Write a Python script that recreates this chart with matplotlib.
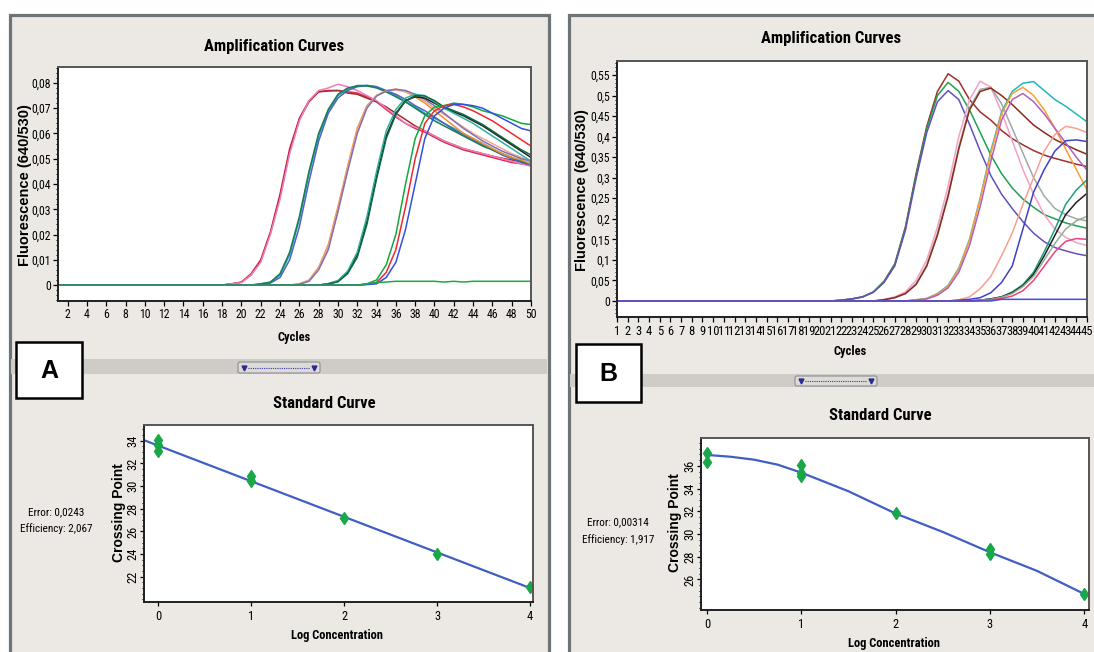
import matplotlib
matplotlib.use('Agg')
import matplotlib.pyplot as plt
from matplotlib import font_manager
from matplotlib.patches import Rectangle, FancyBboxPatch
import numpy as np

# ---- data ----
# panel A amplification: (first cycle, values up to cycle 50)
a_pink = [0.0005, 0.001, 0.004, 0.009, 0.02, 0.034, 0.052, 0.065, 0.073, 0.077, 0.078, 0.0795, 0.0785, 0.077, 0.075, 0.073,
          0.07, 0.067, 0.064, 0.0625, 0.061, 0.059, 0.057, 0.0555, 0.054, 0.053, 0.052, 0.051, 0.05, 0.049, 0.048, 0.047]
a_red = [0.0005, 0.0012, 0.0045, 0.010, 0.021, 0.036, 0.054, 0.066, 0.073, 0.0765, 0.077, 0.077, 0.0765, 0.076, 0.0745, 0.0725,
         0.0695, 0.0665, 0.064, 0.062, 0.0605, 0.0585, 0.0565, 0.055, 0.0535, 0.0525, 0.0515, 0.0505, 0.0495, 0.0485, 0.048, 0.0475]
a_brown = [0.0005, 0.0011, 0.004, 0.0095, 0.0205, 0.035, 0.053, 0.0655, 0.0725, 0.0765, 0.0768, 0.077, 0.076, 0.0755, 0.074, 0.0725,
           0.0705, 0.068, 0.0655, 0.063, 0.061, 0.059, 0.057, 0.0555, 0.054, 0.053, 0.052, 0.051, 0.0502, 0.0495, 0.0488, 0.048]
a_teal = [0.0005, 0.001, 0.004, 0.012, 0.026, 0.044, 0.059, 0.069, 0.075, 0.0775, 0.079, 0.079, 0.0785, 0.0765, 0.075, 0.0725,
          0.0705, 0.068, 0.066, 0.064, 0.062, 0.06, 0.058, 0.056, 0.054, 0.052, 0.0505, 0.049, 0.048]
a_blue2 = [0.0003, 0.0008, 0.003, 0.010, 0.023, 0.041, 0.057, 0.068, 0.074, 0.077, 0.0785, 0.079, 0.0785, 0.077, 0.0755, 0.0735,
           0.071, 0.069, 0.0665, 0.064, 0.0615, 0.0595, 0.0575, 0.0555, 0.0535, 0.0515, 0.05, 0.0485, 0.0475]
a_green2 = [0.0005, 0.0012, 0.0045, 0.013, 0.027, 0.045, 0.06, 0.0695, 0.0755, 0.078, 0.0788, 0.0788, 0.078, 0.0765, 0.0745, 0.0725,
            0.07, 0.0675, 0.065, 0.063, 0.061, 0.059, 0.057, 0.055, 0.0535, 0.052, 0.0505, 0.049, 0.048]
a_orange = [0.0005, 0.002, 0.007, 0.016, 0.031, 0.047, 0.062, 0.071, 0.075, 0.077, 0.0775, 0.0765, 0.0745, 0.072, 0.069, 0.066,
            0.063, 0.06, 0.058, 0.056, 0.054, 0.052, 0.0505, 0.0495, 0.048]
a_salmon = [0.0004, 0.0018, 0.0065, 0.015, 0.030, 0.046, 0.061, 0.0705, 0.075, 0.0768, 0.0772, 0.0765, 0.075, 0.0728, 0.070, 0.0675,
            0.065, 0.0625, 0.060, 0.058, 0.056, 0.054, 0.052, 0.0505, 0.049]
a_purple = [0.0003, 0.0015, 0.006, 0.014, 0.029, 0.045, 0.060, 0.070, 0.0748, 0.0768, 0.0775, 0.077, 0.0755, 0.0735, 0.071, 0.068,
            0.065, 0.062, 0.0595, 0.057, 0.055, 0.053, 0.0515, 0.050, 0.049]
a_black = [0.0005, 0.0015, 0.005, 0.012, 0.025, 0.043, 0.059, 0.068, 0.073, 0.0745, 0.074, 0.072, 0.070, 0.0685, 0.067, 0.065,
           0.063, 0.0605, 0.058, 0.0555, 0.053, 0.0505]
a_teal4 = [0.0006, 0.0018, 0.0055, 0.013, 0.027, 0.045, 0.061, 0.0695, 0.074, 0.0755, 0.075, 0.0725, 0.070, 0.068, 0.066, 0.064,
           0.0615, 0.059, 0.0565, 0.054, 0.0515, 0.049]
a_dgreen4 = [0.0004, 0.0013, 0.0045, 0.011, 0.024, 0.042, 0.058, 0.0675, 0.0728, 0.075, 0.0748, 0.073, 0.0705, 0.069, 0.0675, 0.0655,
             0.0635, 0.061, 0.0585, 0.056, 0.0535, 0.0515]
a_green5 = [0.0005, 0.002, 0.008, 0.02, 0.04, 0.058, 0.067, 0.0705, 0.071, 0.072, 0.0715, 0.0705, 0.069, 0.068, 0.067, 0.0655, 0.064, 0.0635]
a_red5 = [0.0003, 0.001, 0.005, 0.014, 0.031, 0.05, 0.064, 0.069, 0.071, 0.0715, 0.0705, 0.069, 0.067, 0.065, 0.0625, 0.060, 0.0575, 0.055]
a_blue5 = [0.0002, 0.0005, 0.003, 0.009, 0.022, 0.04, 0.058, 0.067, 0.070, 0.0715, 0.0715, 0.071, 0.070, 0.068, 0.066, 0.064, 0.062, 0.061]
a_neg = [0.0005, 0.001, 0.0012, 0.0015, 0.0015, 0.0015, 0.0015, 0.0015, 0.0012, 0.0015, 0.0012, 0.0015, 0.0015, 0.0015, 0.0015,
         0.0015, 0.0015, 0.0015]

amp_a = [(19, a_red, '#e02848'), (19, a_brown, '#a02c2c'), (19, a_pink, '#f07cc0'),
         (22, a_teal, '#20a8a8'), (22, a_blue2, '#5060c8'), (22, a_green2, '#188050'),
         (26, a_orange, '#f09030'), (26, a_salmon, '#f4a88c'), (26, a_purple, '#8070b8'),
         (29, a_black, '#202020'), (29, a_teal4, '#30b0a0'), (29, a_dgreen4, '#106840'),
         (33, a_green5, '#10a840'), (33, a_red5, '#f02830'), (33, a_blue5, '#3050e0'),
         (33, a_neg, '#20a848')]

# panel B amplification: (first cycle, values up to cycle 45)
b_brown1 = [0.002, 0.005, 0.01, 0.022, 0.048, 0.09, 0.18, 0.31, 0.425, 0.51, 0.553, 0.535, 0.49, 0.46, 0.44, 0.415, 0.395, 0.38,
            0.366, 0.355, 0.347, 0.34, 0.333, 0.327]
b_green1 = [0.002, 0.005, 0.01, 0.022, 0.047, 0.088, 0.178, 0.305, 0.42, 0.5, 0.532, 0.51, 0.465, 0.41, 0.355, 0.31, 0.275, 0.248,
            0.228, 0.21, 0.2, 0.19, 0.183, 0.177]
b_purple1 = [0.002, 0.005, 0.01, 0.021, 0.045, 0.085, 0.172, 0.298, 0.41, 0.485, 0.512, 0.49, 0.43, 0.365, 0.305, 0.26, 0.225, 0.193,
             0.165, 0.144, 0.13, 0.122, 0.115, 0.11]
b_pink2 = [0.004, 0.01, 0.022, 0.05, 0.1, 0.18, 0.28, 0.40, 0.49, 0.535, 0.52, 0.46, 0.39, 0.32, 0.26, 0.21, 0.175, 0.155, 0.142, 0.135]
b_gray2 = [0.003, 0.008, 0.018, 0.042, 0.088, 0.165, 0.26, 0.375, 0.47, 0.515, 0.52, 0.48, 0.42, 0.36, 0.3, 0.255, 0.225, 0.21, 0.2, 0.195]
b_brown2 = [0.003, 0.008, 0.018, 0.04, 0.085, 0.16, 0.255, 0.37, 0.465, 0.51, 0.518, 0.5, 0.478, 0.453, 0.428, 0.41, 0.393, 0.38,
            0.368, 0.357]
b_teal3 = [0.003, 0.006, 0.018, 0.038, 0.08, 0.15, 0.25, 0.365, 0.46, 0.51, 0.53, 0.534, 0.512, 0.49, 0.474, 0.455, 0.436]
b_orange3 = [0.003, 0.006, 0.017, 0.036, 0.078, 0.148, 0.248, 0.36, 0.455, 0.505, 0.52, 0.5, 0.465, 0.42, 0.37, 0.32, 0.27]
b_violet3 = [0.002, 0.005, 0.014, 0.032, 0.07, 0.135, 0.23, 0.34, 0.44, 0.49, 0.505, 0.485, 0.455, 0.42, 0.385, 0.35, 0.318]
b_salmon = [0.003, 0.01, 0.03, 0.06, 0.11, 0.165, 0.235, 0.3, 0.365, 0.405, 0.425, 0.42, 0.41]
b_blue3 = [0.002, 0.004, 0.008, 0.02, 0.045, 0.085, 0.175, 0.265, 0.32, 0.365, 0.39, 0.392, 0.388]
b_tgreen4 = [0.002, 0.005, 0.01, 0.022, 0.04, 0.07, 0.12, 0.175, 0.235, 0.27, 0.295]
b_black4 = [0.002, 0.005, 0.01, 0.02, 0.037, 0.065, 0.11, 0.16, 0.21, 0.24, 0.262]
b_gray4 = [0.002, 0.004, 0.009, 0.018, 0.035, 0.06, 0.1, 0.14, 0.175, 0.195, 0.206]
b_pink4 = [0.001, 0.003, 0.006, 0.012, 0.025, 0.05, 0.085, 0.12, 0.145, 0.152, 0.15]
b_flat = [0.004, 0.004, 0.004, 0.004, 0.004, 0.004, 0.004, 0.004, 0.004]

amp_b = [(22, b_brown1, '#a0302c'), (22, b_green1, '#20a050'), (22, b_purple1, '#6050c0'),
         (26, b_pink2, '#f4a0c8'), (26, b_gray2, '#a0a8a8'), (26, b_brown2, '#902818'),
         (29, b_teal3, '#20b8c0'), (29, b_orange3, '#f8a030'), (29, b_violet3, '#b060c0'),
         (33, b_salmon, '#f8a090'), (33, b_blue3, '#4040c8'),
         (35, b_tgreen4, '#20a080'), (35, b_black4, '#202020'), (35, b_gray4, '#90b090'), (35, b_pink4, '#f04080'),
         (37, b_flat, '#4050d0')]

# standard curves
std_a_x = [0, 0, 0, 1, 1, 2, 3, 4]
std_a_y = [34.06, 33.64, 33.1, 30.9, 30.44, 27.19, 23.99, 21.1]
fit_a_x = [-0.15, 4.0]
fit_a_y = [34.05, 21.0]
std_b_x = [0, 0, 1, 1, 1, 2, 3, 3, 4]
std_b_y = [37.1, 36.3, 36.05, 35.4, 35.1, 31.82, 28.69, 28.24, 24.72]
fit_b_x = [0, 0.25, 0.5, 0.75, 1, 1.5, 2, 2.5, 3, 3.5, 4]
fit_b_y = [36.96, 36.8, 36.54, 36.1, 35.4, 33.76, 31.8, 30.18, 28.39, 26.75, 24.72]

a_yticks = [0, 0.01, 0.02, 0.03, 0.04, 0.05, 0.06, 0.07, 0.08]
a_ylabels = ['0', '0,01', '0,02', '0,03', '0,04', '0,05', '0,06', '0,07', '0,08']
b_yticks = [0, 0.05, 0.1, 0.15, 0.2, 0.25, 0.3, 0.35, 0.4, 0.45, 0.5, 0.55]
b_ylabels = ['0', '0,05', '0,1', '0,15', '0,2', '0,25', '0,3', '0,35', '0,4', '0,45', '0,5', '0,55']

# ---- fonts: a narrow face if there is one, else Liberation Sans a bit smaller ----
fonts = {f.name for f in font_manager.fontManager.ttflist}
SANS = 'Liberation Sans' if 'Liberation Sans' in fonts else 'DejaVu Sans'
pref = ['Liberation Sans Narrow', 'Arial Narrow', 'Roboto Condensed', 'Noto Sans Condensed',
        'Open Sans Condensed', 'DejaVu Sans Condensed']
NARROW = next((f for f in pref if f in fonts), None)
if NARROW is None:
    others = sorted(n for n in fonts if ('Narrow' in n or n.endswith('Condensed')))
    NARROW = others[0] if others else None
if NARROW is None:
    NARROW, K = SANS, 0.86
else:
    K = 1.0

# ---- layout helpers (pixel coords, origin top-left) ----
W, H = 1094, 652
fig = plt.figure(figsize=(W / 100, H / 100), dpi=100, facecolor='white')


def px(l, t, r, b):
    return [l / W, 1 - b / H, (r - l) / W, (b - t) / H]


def ftext(x, y, s, **kw):
    fig.text(x / W, 1 - y / H, s, ha='center', va='center', **kw)


bg = fig.add_axes([0, 0, 1, 1])
bg.set_xlim(0, W)
bg.set_ylim(H, 0)
bg.axis('off')

panel_bg = '#ece9e5'
border = '#6d7477'
bg.add_patch(Rectangle((9.5, 14.5), 539, 700, fc=panel_bg, ec=border, lw=2.3))
bg.add_patch(Rectangle((568.5, 14.5), 600, 700, fc=panel_bg, ec=border, lw=2.3))
bg.add_patch(Rectangle((11, 359), 536, 15, fc='#cfccc8', ec='none'))
bg.add_patch(Rectangle((570, 374), 530, 13, fc='#cfccc8', ec='none'))
for l, t, r, b in [(238, 362, 320, 373), (795, 376, 877, 386)]:
    bg.add_patch(FancyBboxPatch((l, t), r - l, b - t, boxstyle='round,pad=0,rounding_size=2',
                                fc='#dddbd7', ec='#8a8c98', lw=0.8))
    bg.plot([l + 10, r - 10], [(t + b) / 2] * 2, ls=(0, (1, 1)), color='#3a3aa0', lw=0.8)
    bg.plot([l + 6, r - 6], [(t + b) / 2] * 2, 'v', color='#2a2a90', ms=3.5)
for l, t, r, b, s in [(16, 342, 82, 398, 'A'), (576, 344, 641, 402, 'B')]:
    bg.add_patch(Rectangle((l, t), r - l, b - t, fc='white', ec='black', lw=1.8))
    ftext((l + r) / 2, (t + b) / 2 + 1, s, family=SANS, fontweight='bold', fontsize=18)


def style(ax, tick_size, pad=1.5, length=3.5):
    for side in ax.spines:
        ax.spines[side].set_linewidth(1.4)
    ax.spines['left'].set_color('#202020')
    ax.spines['bottom'].set_color('#202020')
    ax.spines['top'].set_color('#555555')
    ax.spines['right'].set_color('#555555')
    ax.tick_params(direction='out', length=length, width=0.9, labelsize=tick_size * K, pad=pad)
    ax.tick_params(which='minor', direction='out', length=1.8, width=0.7)
    for lab in ax.get_xticklabels() + ax.get_yticklabels():
        lab.set_family(NARROW)


def amp_axes(rect, curves, ncyc, xlim, ylim, xticks, yticks, ylabels, minor):
    ax = fig.add_axes(rect)
    x = np.arange(1, ncyc + 1)
    for start, vals, col in curves:
        y = np.concatenate([np.zeros(start - 1), vals])
        ax.plot(x, y, color=col, lw=1.1)
    ax.set_xlim(*xlim)
    ax.set_ylim(*ylim)
    ax.set_xticks(xticks)
    ax.set_xticklabels([str(v) for v in xticks])
    ax.set_yticks(yticks)
    ax.set_yticklabels(ylabels)
    ax.yaxis.set_minor_locator(matplotlib.ticker.MultipleLocator(minor))
    style(ax, 8.5)
    return ax


axA = amp_axes(px(58, 67, 531, 301), amp_a, 50, (1, 50), (-0.0063, 0.0863),
               list(range(2, 51, 2)), a_yticks, a_ylabels, 0.002)
axB = amp_axes(px(617, 61, 1087, 317), amp_b, 45, (1, 45), (-0.039, 0.584),
               list(range(1, 46)), b_yticks, b_ylabels, 0.01)
axB.tick_params(axis='x', labelsize=9 * K, pad=2.5)


def std_axes(rect, xs, ys, fx, fy, xlim, ylim, yticks):
    ax = fig.add_axes(rect)
    ax.plot(fx, fy, color='#3f5fc4', lw=1.6)
    ax.plot(xs, ys, 'd', color='#18a848', ms=6.5, mec='#18a848')
    ax.set_xlim(*xlim)
    ax.set_ylim(*ylim)
    ax.set_xticks([0, 1, 2, 3, 4])
    ax.set_yticks(yticks)
    ax.yaxis.set_minor_locator(matplotlib.ticker.MultipleLocator(0.5))
    style(ax, 9, pad=0.5, length=3)
    ax.tick_params(axis='x', pad=3)
    for lab in ax.get_yticklabels():
        lab.set_rotation(90)
        lab.set_va('center')
    return ax


std_axes(px(144, 425, 533, 602), std_a_x, std_a_y, fit_a_x, fit_a_y, (-0.15, 4.03), (19.77, 35.39),
         [22, 24, 26, 28, 30, 32, 34])
std_axes(px(701, 438, 1089, 610), std_b_x, std_b_y, fit_b_x, fit_b_y, (-0.064, 4.05), (23.31, 38.45),
         [26, 28, 30, 32, 34, 36])

# ---- texts ----
bold_n = dict(family=NARROW, fontweight='bold')
ftext(274, 46, 'Amplification Curves', fontsize=12 * K, **bold_n)
ftext(831, 39, 'Amplification Curves', fontsize=12 * K, **bold_n)
ftext(294, 337, 'Cycles', fontsize=9 * K, **bold_n)
ftext(850, 351, 'Cycles', fontsize=9 * K, **bold_n)
ftext(324, 403, 'Standard Curve', fontsize=12 * K, **bold_n)
ftext(880, 416, 'Standard Curve', fontsize=12 * K, **bold_n)
ftext(337, 635, 'Log Concentration', fontsize=9 * K, **bold_n)
ftext(894, 644, 'Log Concentration', fontsize=9 * K, **bold_n)
ftext(25, 185, 'Fluorescence (640/530)', family=SANS, fontweight='bold', fontsize=10.5, rotation=90)
ftext(582, 190, 'Fluorescence (640/530)', family=SANS, fontweight='bold', fontsize=10.5, rotation=90)
ftext(118.5, 513, 'Crossing Point', family=SANS, fontweight='bold', fontsize=10, rotation=90)
ftext(675.5, 523, 'Crossing Point', family=SANS, fontweight='bold', fontsize=10, rotation=90)
ftext(56, 512, 'Error: 0,0243', family=NARROW, fontsize=8 * K)
ftext(56, 529, 'Efficiency: 2,067', family=NARROW, fontsize=8 * K)
ftext(618, 522, 'Error: 0,00314', family=NARROW, fontsize=8 * K)
ftext(618, 540, 'Efficiency: 1,917', family=NARROW, fontsize=8 * K)

fig.savefig('out.png', dpi=100, facecolor='white')
